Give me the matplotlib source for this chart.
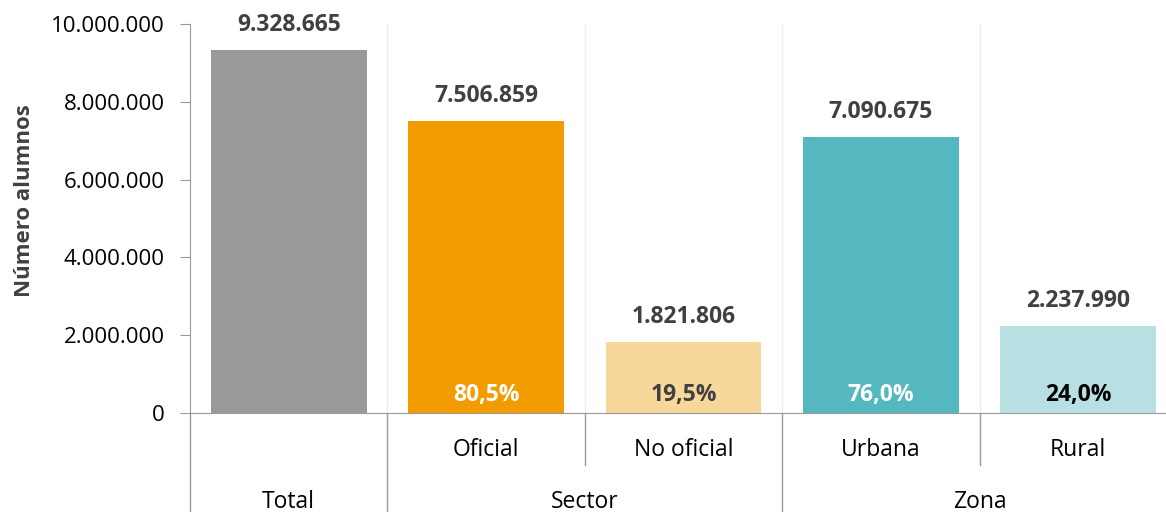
import matplotlib.pyplot as plt
from matplotlib.ticker import FuncFormatter
from matplotlib.transforms import blended_transform_factory

plt.rcParams['font.family'] = ['Open Sans', 'DejaVu Sans']

categories = ['', 'Oficial', 'No oficial', 'Urbana', 'Rural']
groups = ['Total', 'Sector', 'Zona']
group_spans = [(0, 0), (1, 2), (3, 4)]
values = [9328665, 7506859, 1821806, 7090675, 2237990]
shares = [None, '80,5%', '19,5%', '76,0%', '24,0%']
colors = ['#999999', '#F29C00', '#F8D79A', '#55B8C1', '#B8E0E3']
share_colors = [None, 'white', '#404040', 'white', 'black']


def dots(v, pos=None):
    return f'{int(v):,}'.replace(',', '.')


fig = plt.figure(figsize=(11.66, 5.12), dpi=100)
ax = fig.add_axes([190 / 1166, 1 - 413 / 512, (1177 - 190) / 1166, (413 - 24) / 512])

x = list(range(len(values)))
ax.bar(x, values, width=0.79, color=colors, zorder=2)
ax.set_xlim(-0.5, len(values) - 0.5)
ax.set_ylim(0, 10000000)
ax.set_yticks(range(0, 10000001, 2000000))
ax.yaxis.set_major_formatter(FuncFormatter(dots))
ax.tick_params(axis='y', labelsize=16, length=7, color='#999999', pad=11)
ax.tick_params(axis='x', bottom=False, labelbottom=False)
ax.set_ylabel('Número alumnos', fontsize=16, fontweight='bold', color='#404040')
ax.yaxis.set_label_coords(-0.157, 0.545)

for s in ['top', 'right']:
    ax.spines[s].set_visible(False)
ax.spines['left'].set_color('#999999')
ax.spines['bottom'].set_color('#999999')

# separators between categories
for b in [0.5, 1.5, 2.5, 3.5]:
    ax.axvline(b, color='#eeeeee', lw=1, zorder=1)

for i, v in enumerate(values):
    ax.text(i, v + 330000, dots(v), ha='center', va='bottom', fontsize=16.5,
            fontweight='bold', color='#404040')
    if shares[i]:
        ax.text(i, 470000, shares[i], ha='center', va='center', fontsize=16.5,
                fontweight='bold', color=share_colors[i])

# hierarchical category axis below the plot
trans = blended_transform_factory(ax.transData, ax.transAxes)
row1 = -(450 - 413) / (413 - 24)
row2 = -(502 - 413) / (413 - 24)
short = -(465 - 413) / (413 - 24)
long_ = -(520 - 413) / (413 - 24)

for i, c in enumerate(categories):
    if c:
        ax.text(i, row1, c, transform=trans, ha='center', va='center', fontsize=16.5, color='black')
for g, (a, b) in zip(groups, group_spans):
    ax.text((a + b) / 2, row2, g, transform=trans, ha='center', va='center', fontsize=16.5, color='black')

for b in [-0.5, 0.5, 2.5]:
    ax.plot([b, b], [0, long_], transform=trans, color='#999999', lw=1, clip_on=False)
for b in [1.5, 3.5]:
    ax.plot([b, b], [0, short], transform=trans, color='#999999', lw=1, clip_on=False)

fig.savefig('out.png', dpi=100)
